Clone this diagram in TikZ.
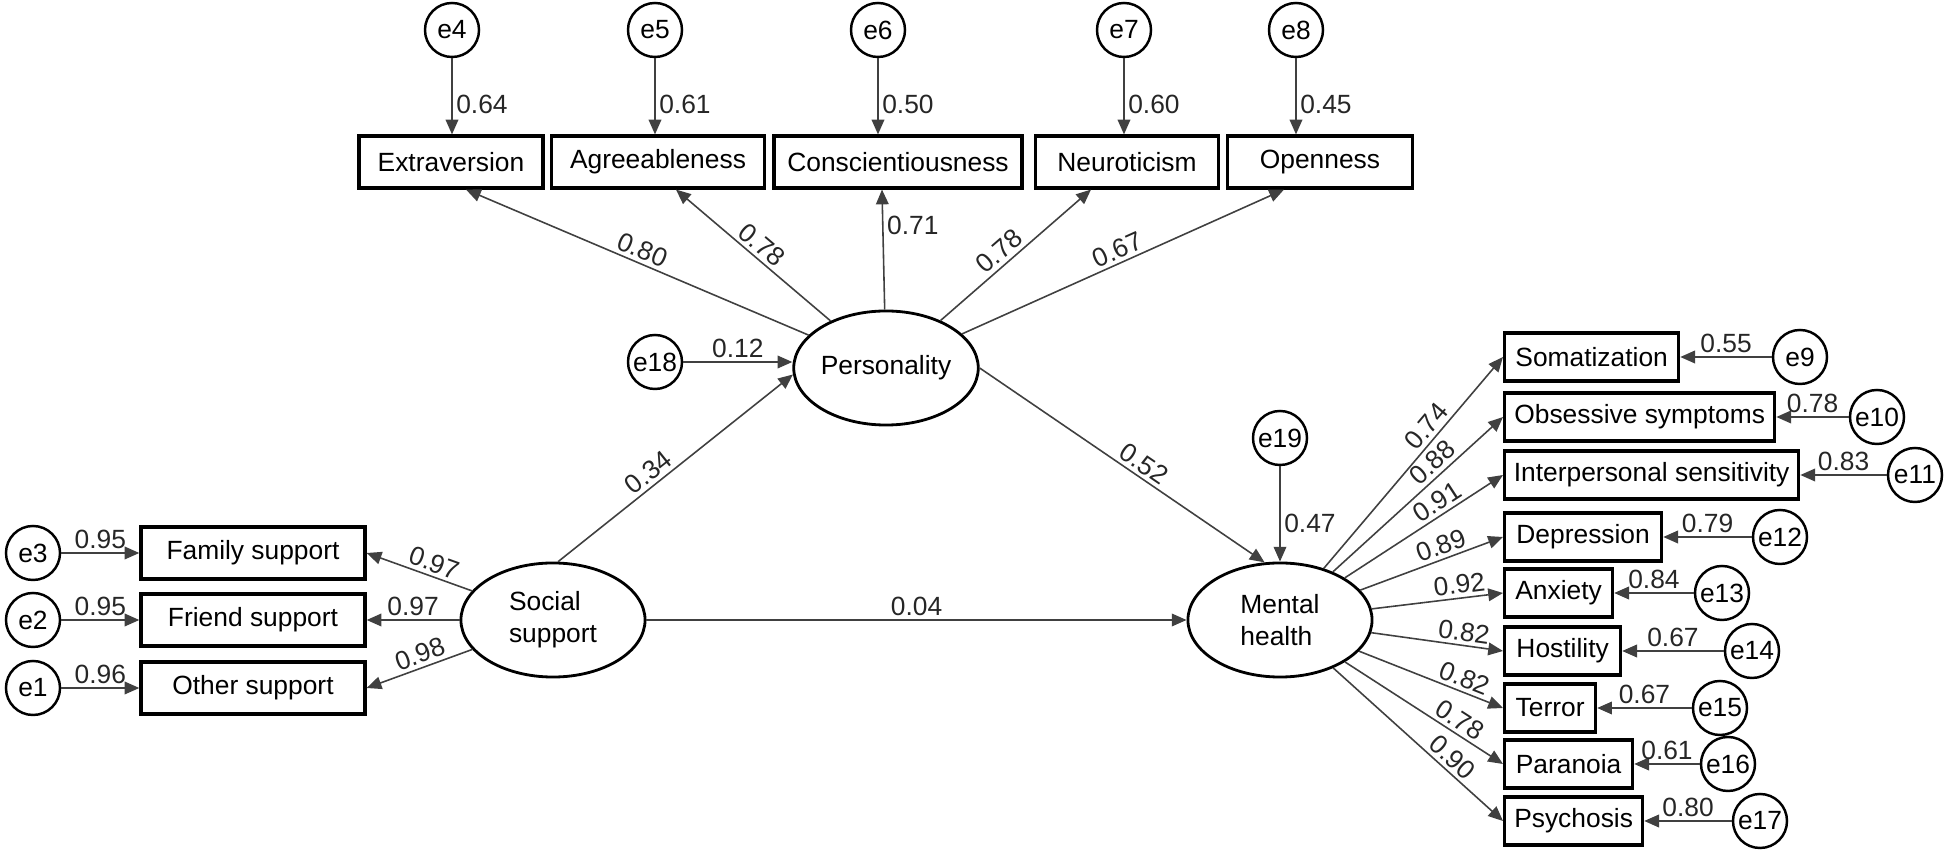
\documentclass[tikz,border=0pt]{standalone}
\usepackage{fontspec}
\setmainfont{Liberation Sans}
\usetikzlibrary{shapes.geometric,arrows.meta}

\begin{document}
\begin{tikzpicture}[x=0.01cm, y=-0.01cm, font=\fontsize{7.5}{9}\selectfont,
    >={Triangle[length=4.2pt,width=3.6pt]},
    obs/.style = {draw, line width=0.9pt, minimum height=0.52cm, inner sep=1pt},
    lat/.style = {draw, ellipse, line width=0.8pt, minimum width=1.84cm, minimum height=1.14cm, inner sep=0pt, align=left},
    err/.style = {draw, circle, line width=0.7pt, minimum size=0.54cm, inner sep=0pt},
    link/.style = {->, line width=0.45pt, black!75},
    coef/.style = {inner sep=1pt, text=black!85}]

    \useasboundingbox (0,0) rectangle (1944,855);

    % latent variables
    \node[lat] (pers) at (886,368) {Personality};
    \node[lat] (soc) at (553,620) {Social\\support};
    \node[lat] (mh) at (1280,620) {Mental\\health};

    % personality indicators
    \node[obs, minimum width=1.84cm] (ext) at (451,162) {Extraversion};
    \node[obs, minimum width=2.13cm] (agr) at (658,162) {Agreeableness};
    \node[obs, minimum width=2.48cm] (con) at (898,162) {Conscientiousness};
    \node[obs, minimum width=1.83cm] (neu) at (1127,162) {Neuroticism};
    \node[obs, minimum width=1.85cm] (ope) at (1320,162) {Openness};
    \node[err] (e4) at (452,30) {e4};
    \node[err] (e5) at (655,30) {e5};
    \node[err] (e6) at (878,30) {e6};
    \node[err] (e7) at (1124,30) {e7};
    \node[err] (e8) at (1296,30) {e8};

    % social support indicators
    \node[obs, minimum width=2.24cm] (fam) at (253,553) {Family support};
    \node[obs, minimum width=2.24cm] (fri) at (253,620) {Friend support};
    \node[obs, minimum width=2.24cm] (oth) at (253,688) {Other support};
    \node[err] (e3) at (33,553) {e3};
    \node[err] (e2) at (33,620) {e2};
    \node[err] (e1) at (33,688) {e1};

    % mental health indicators
    \node[obs, anchor=west, minimum width=1.74cm, minimum height=0.48cm] (som) at (1503,357) {Somatization};
    \node[obs, anchor=west, minimum width=2.70cm, minimum height=0.48cm] (obsv) at (1503,417) {Obsessive symptoms};
    \node[obs, anchor=west, minimum width=2.94cm, minimum height=0.48cm] (inter) at (1503,475) {Interpersonal sensitivity};
    \node[obs, anchor=west, minimum width=1.57cm, minimum height=0.48cm] (dep) at (1503,537) {Depression};
    \node[obs, anchor=west, minimum width=1.08cm, minimum height=0.48cm] (anx) at (1503,593) {Anxiety};
    \node[obs, anchor=west, minimum width=1.16cm, minimum height=0.48cm] (hos) at (1503,651) {Hostility};
    \node[obs, anchor=west, minimum width=0.91cm, minimum height=0.48cm] (ter) at (1503,708) {Terror};
    \node[obs, anchor=west, minimum width=1.28cm, minimum height=0.48cm] (par) at (1503,764) {Paranoia};
    \node[obs, anchor=west, minimum width=1.38cm, minimum height=0.48cm] (psy) at (1503,821) {Psychosis};
    \node[err] (e9) at (1800,357) {e9};
    \node[err] (e10) at (1877,417) {e10};
    \node[err] (e11) at (1915,475) {e11};
    \node[err] (e12) at (1780,537) {e12};
    \node[err] (e13) at (1722,593) {e13};
    \node[err] (e14) at (1752,651) {e14};
    \node[err] (e15) at (1720,708) {e15};
    \node[err] (e16) at (1728,764) {e16};
    \node[err] (e17) at (1760,821) {e17};

    % disturbances
    \node[err] (e18) at (655,362) {e18};
    \node[err] (e19) at (1280,438) {e19};

    % loadings of personality
    \draw[link] (pers) -- node[coef, pos=.5, sloped, above] {0.80} ([xshift=0.15cm]ext.south);
    \draw[link] (pers) -- node[coef, pos=.5, sloped, above] {0.78} ([xshift=0.18cm]agr.south);
    \draw[link] (pers) -- node[coef, pos=.7, right] {0.71} ([xshift=-0.16cm]con.south);
    \draw[link] (pers) -- node[coef, pos=.45, sloped, above] {0.78} ([xshift=-0.36cm]neu.south);
    \draw[link] (pers) -- node[coef, pos=.5, sloped, above] {0.67} ([xshift=-0.36cm]ope.south);
    \draw[link] (e4) -- node[coef, pos=.6, right] {0.64} (e4 |- ext.north);
    \draw[link] (e5) -- node[coef, pos=.6, right] {0.61} (e5 |- agr.north);
    \draw[link] (e6) -- node[coef, pos=.6, right] {0.50} (e6 |- con.north);
    \draw[link] (e7) -- node[coef, pos=.6, right] {0.60} (e7 |- neu.north);
    \draw[link] (e8) -- node[coef, pos=.6, right] {0.45} (e8 |- ope.north);

    % loadings of social support
    \draw[link] (soc) -- node[coef, pos=.4, sloped, above] {0.97} (fam.east);
    \draw[link] (soc) -- node[coef, midway, above] {0.97} (fri);
    \draw[link] (soc) -- node[coef, pos=.45, sloped, above] {0.98} (oth.east);
    \draw[link] (e3) -- node[coef, midway, above] {0.95} (fam);
    \draw[link] (e2) -- node[coef, midway, above] {0.95} (fri);
    \draw[link] (e1) -- node[coef, midway, above] {0.96} (oth);

    % loadings of mental health
    \draw[link] (mh) -- node[coef, pos=.63, sloped, above] {0.74} (som.west);
    \draw[link] (mh) -- node[coef, pos=.64, sloped, above] {0.88} (obsv.west);
    \draw[link] (mh) -- node[coef, pos=.63, sloped, above] {0.91} (inter.west);
    \draw[link] (mh) -- node[coef, pos=.6, sloped, above] {0.89} (dep.west);
    \draw[link] (mh) -- node[coef, pos=.68, sloped, above] {0.92} (anx.west);
    \draw[link] (mh) -- node[coef, pos=.69, sloped, above] {0.82} (hos.west);
    \draw[link] (mh) -- node[coef, pos=.7, sloped, above] {0.82} (ter.west);
    \draw[link] (mh) -- node[coef, pos=.68, sloped, above] {0.78} (par.west);
    \draw[link] (mh) -- node[coef, pos=.65, sloped, above] {0.90} (psy.west);
    \draw[link] (e9) -- node[coef, midway, above] {0.55} (som);
    \draw[link] (e10) -- node[coef, midway, above] {0.78} (obsv);
    \draw[link] (e11) -- node[coef, midway, above] {0.83} (inter);
    \draw[link] (e12) -- node[coef, midway, above] {0.79} (dep);
    \draw[link] (e13) -- node[coef, midway, above] {0.84} (anx);
    \draw[link] (e14) -- node[coef, midway, above] {0.67} (hos);
    \draw[link] (e15) -- node[coef, midway, above] {0.67} (ter);
    \draw[link] (e16) -- node[coef, midway, above] {0.61} (par);
    \draw[link] (e17) -- node[coef, midway, above] {0.80} (psy);

    % structural paths
    \draw[link] (e18) -- node[coef, midway, above] {0.12} (e18 -| pers.west);
    \draw[link] (soc.85) -- node[coef, pos=.42, sloped, above] {0.34} (pers.184);
    \draw[link] (pers.east) -- node[coef, pos=.55, sloped, above] {0.52} (mh.105);
    \draw[link] (e19) -- node[coef, pos=.6, right] {0.47} (mh);
    \draw[link] (soc) -- node[coef, midway, above] {0.04} (mh);

\end{tikzpicture}
\end{document}
